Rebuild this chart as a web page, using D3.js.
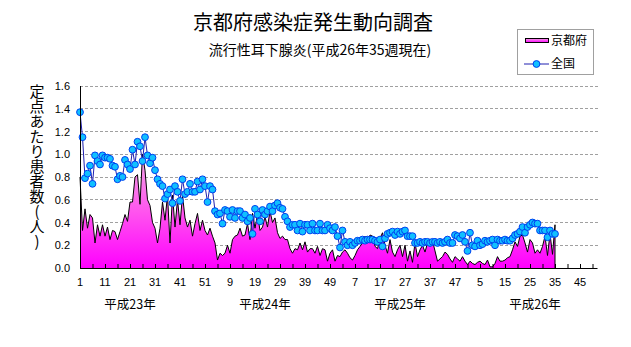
<!DOCTYPE html>
<html><head><meta charset="utf-8">
<script src="https://cdn.jsdelivr.net/npm/d3@7/dist/d3.min.js"></script>
<style>
html,body{margin:0;padding:0;background:#fff;}
svg{display:block;}
</style>
</head><body>
<svg id="chart" width="631" height="347"></svg>
<script>
const title = "京都府感染症発生動向調査";
const subtitle = "流行性耳下腺炎(平成26年35週現在)";
const yLabel = "定点あたり患者数(人)";
const seriesNames = ["京都府", "全国"];
const years = ["平成23年", "平成24年", "平成25年", "平成26年"];
const weeksPerYear = [52, 52, 52, 52];
const yTicks = [0.0, 0.2, 0.4, 0.6, 0.8, 1.0, 1.2, 1.4, 1.6];

// 京都府 (weekly values, 平成23年1週 - 平成26年35週)
const kyoto = [
0.80,0.33,0.52,0.35,0.47,0.44,0.22,0.38,0.28,0.38,
0.28,0.36,0.25,0.33,0.32,0.25,0.32,0.39,0.47,0.41,
0.58,0.58,0.80,0.82,0.56,1.00,0.86,0.60,0.55,0.40,
0.35,0.22,0.35,0.58,0.42,0.64,0.22,0.64,0.36,0.60,
0.38,0.64,0.44,0.36,0.42,0.28,0.39,0.48,0.33,0.42,
0.33,0.29,0.35,0.28,0.22,0.07,0.13,0.11,0.13,0.20,
0.13,0.25,0.28,0.29,0.35,0.28,0.29,0.39,0.25,0.48,
0.35,0.47,0.33,0.36,0.45,0.36,0.50,0.40,0.44,0.31,
0.26,0.28,0.25,0.25,0.17,0.13,0.17,0.16,0.22,0.16,
0.23,0.14,0.17,0.17,0.13,0.19,0.11,0.17,0.16,0.06,
0.13,0.16,0.06,0.11,0.10,0.14,0.16,0.13,0.09,0.07,
0.11,0.16,0.19,0.22,0.28,0.22,0.29,0.28,0.19,0.17,
0.26,0.31,0.20,0.13,0.25,0.14,0.10,0.16,0.20,0.10,
0.20,0.06,0.15,0.05,0.22,0.10,0.16,0.20,0.14,0.22,
0.19,0.24,0.15,0.06,0.08,0.10,0.14,0.12,0.08,0.05,
0.10,0.08,0.06,0.10,0.06,0.03,0.06,0.04,0.03,0.05,
0.06,0.04,0.03,0.07,0.01,0.01,0.04,0.10,0.06,0.06,
0.07,0.09,0.10,0.16,0.23,0.19,0.28,0.29,0.22,0.14,
0.25,0.22,0.13,0.16,0.13,0.19,0.28,0.11,0.30,0.12,
0.38
];

// 全国
const national = [
1.37,1.15,0.79,0.83,0.90,0.74,0.99,0.94,0.91,0.99,
0.97,0.97,0.96,0.90,0.89,0.78,0.81,0.80,0.95,0.91,
0.87,1.04,0.91,1.11,1.07,0.94,1.15,0.99,0.92,0.97,
0.86,0.78,0.74,0.72,0.61,0.65,0.69,0.57,0.72,0.67,
0.59,0.78,0.65,0.67,0.74,0.67,0.67,0.76,0.69,0.78,
0.72,0.58,0.72,0.69,0.50,0.47,0.48,0.39,0.51,0.50,
0.45,0.51,0.44,0.50,0.50,0.44,0.47,0.41,0.44,0.30,
0.52,0.47,0.41,0.51,0.47,0.50,0.54,0.50,0.55,0.57,
0.53,0.52,0.45,0.41,0.36,0.38,0.38,0.33,0.39,0.32,
0.38,0.38,0.33,0.39,0.33,0.33,0.39,0.33,0.33,0.38,
0.35,0.33,0.36,0.28,0.18,0.33,0.23,0.20,0.23,0.20,
0.22,0.24,0.24,0.25,0.24,0.25,0.25,0.25,0.24,0.23,
0.25,0.19,0.26,0.30,0.31,0.32,0.29,0.32,0.30,0.32,
0.33,0.28,0.28,0.28,0.22,0.22,0.23,0.22,0.23,0.23,
0.22,0.23,0.23,0.22,0.23,0.22,0.23,0.25,0.22,0.22,
0.29,0.28,0.26,0.29,0.23,0.15,0.31,0.20,0.19,0.24,
0.20,0.21,0.24,0.23,0.24,0.25,0.20,0.25,0.24,0.24,
0.25,0.24,0.24,0.26,0.29,0.30,0.32,0.36,0.31,0.36,
0.38,0.40,0.39,0.39,0.33,0.33,0.33,0.27,0.33,0.30,
0.30
];

// categories: every week of each year
const categories = [];
years.forEach((yr, yi) => {
  for (let w = 1; w <= weeksPerYear[yi]; w++) categories.push({year: yr, week: w, key: yi + "-" + w});
});

const svg = d3.select("#chart");
const plot = {left: 80, right: 597.5, top: 86, bottom: 268};

const x = d3.scalePoint().domain(categories.map(c => c.key)).range([plot.left, plot.right]);
const y = d3.scaleLinear().domain([0, 1.6]).range([plot.bottom, plot.top]);

const defs = svg.append("defs");
const grad = defs.append("linearGradient").attr("id", "pinkGrad")
  .attr("gradientUnits", "userSpaceOnUse")
  .attr("x1", 0).attr("x2", 0).attr("y1", y(0)).attr("y2", y(1.0));
grad.append("stop").attr("offset", "0%").attr("stop-color", "#ff00ff");
grad.append("stop").attr("offset", "50%").attr("stop-color", "#ff55ee");
grad.append("stop").attr("offset", "100%").attr("stop-color", "#f0a8e4");
const grad2 = defs.append("linearGradient").attr("id", "pinkGradLeg")
  .attr("x1", 0).attr("x2", 0).attr("y1", 1).attr("y2", 0);
grad2.append("stop").attr("offset", "0%").attr("stop-color", "#ff00ff");
grad2.append("stop").attr("offset", "100%").attr("stop-color", "#f4a0e6");

// gridlines
svg.append("g").selectAll("line").data(yTicks.filter(t => t > 0)).join("line")
  .attr("x1", plot.left).attr("x2", plot.right)
  .attr("y1", d => y(d)).attr("y2", d => y(d))
  .attr("stroke", "#a0a0a0").attr("stroke-width", 1).attr("stroke-dasharray", "3,2")
  .attr("shape-rendering", "crispEdges");

// Kyoto area
const kData = kyoto.map((v, i) => ({key: categories[i].key, v}));
svg.append("path").datum(kData)
  .attr("fill", "url(#pinkGrad)")
  .attr("d", d3.area().x(d => x(d.key)).y0(y(0)).y1(d => y(d.v)));
svg.append("path").datum(kData)
  .attr("fill", "none").attr("stroke", "#000").attr("stroke-width", 1)
  .attr("d", d3.line().x(d => x(d.key)).y(d => y(d.v)));
// closing edge at last point
svg.append("line")
  .attr("x1", x(kData[kData.length - 1].key)).attr("x2", x(kData[kData.length - 1].key))
  .attr("y1", y(kData[kData.length - 1].v)).attr("y2", y(0))
  .attr("stroke", "#000").attr("stroke-width", 1);

// National line + markers
const nData = national.map((v, i) => ({key: categories[i].key, v}));
svg.append("path").datum(nData)
  .attr("fill", "none").attr("stroke", "#2020b0").attr("stroke-width", 1)
  .attr("d", d3.line().x(d => x(d.key)).y(d => y(d.v)));
svg.append("g").selectAll("circle").data(nData).join("circle")
  .attr("cx", d => x(d.key)).attr("cy", d => y(d.v)).attr("r", 3.4)
  .attr("fill", "#10c0ff").attr("stroke", "#0040f0").attr("stroke-width", 1);

// axes
const xAxis = d3.axisBottom(x)
  .tickValues(categories.filter((c, i) => i % 5 === 0).map(c => c.key))
  .tickSize(-4).tickFormat("");
svg.append("g").attr("transform", `translate(0,${plot.bottom})`).call(xAxis)
  .call(g => g.select(".domain").attr("d", `M${plot.left},0.5H${plot.right}`).attr("stroke", "#000"))
  .call(g => g.selectAll(".tick line").attr("stroke", "#000"));

svg.append("line").attr("x1", plot.left + 0.5).attr("x2", plot.left + 0.5)
  .attr("y1", plot.top).attr("y2", plot.bottom + 0.5).attr("stroke", "#000");

// x labels every 10 weeks
svg.append("g").selectAll("text")
  .data(categories.filter((c, i) => i % 10 === 0))
  .join("text")
  .attr("x", d => x(d.key)).attr("y", 286)
  .attr("text-anchor", "middle")
  .attr("font-family", "Liberation Sans, Arial, sans-serif").attr("font-size", 11)
  .text(d => d.week);

// year labels
const yearAnchorWeek = [21, 23, 25, 27];
svg.append("g").selectAll("text").data(years).join("text")
  .attr("x", (d, i) => x(i + "-" + yearAnchorWeek[i]))
  .attr("y", 309).attr("text-anchor", "middle")
  .attr("font-family", "Noto Sans CJK JP, sans-serif").attr("font-size", 12.5)
  .text(d => d);

// y labels
svg.append("g").selectAll("text").data(yTicks).join("text")
  .attr("x", 70).attr("y", d => y(d) + 4)
  .attr("text-anchor", "end")
  .attr("font-family", "Liberation Sans, Arial, sans-serif").attr("font-size", 11)
  .text(d => d.toFixed(1));

// y title (vertical)
svg.append("text")
  .attr("x", 37).attr("y", 84)
  .attr("font-family", "Noto Sans CJK JP, sans-serif").attr("font-size", 15)
  .style("writing-mode", "vertical-rl")
  .style("text-orientation", "upright")
  .text(yLabel);

// titles
svg.append("text").attr("x", 313).attr("y", 30).attr("text-anchor", "middle")
  .attr("font-family", "Noto Sans CJK JP, sans-serif").attr("font-size", 20)
  .text(title);
svg.append("text").attr("x", 320).attr("y", 55).attr("text-anchor", "middle")
  .attr("font-family", "Noto Sans CJK JP, sans-serif").attr("font-size", 14)
  .text(subtitle);

// legend
const leg = svg.append("g");
leg.append("rect").attr("x", 517.5).attr("y", 29.5).attr("width", 76).attr("height", 45)
  .attr("fill", "#fff").attr("stroke", "#a0a0a0");
leg.append("rect").attr("x", 525.5).attr("y", 38.5).attr("width", 23).attr("height", 4)
  .attr("fill", "url(#pinkGradLeg)").attr("stroke", "#000");
leg.append("text").attr("x", 551).attr("y", 45)
  .attr("font-family", "Noto Sans CJK JP, sans-serif").attr("font-size", 12).text(seriesNames[0]);
leg.append("line").attr("x1", 524).attr("x2", 549).attr("y1", 64).attr("y2", 64)
  .attr("stroke", "#2020b0");
leg.append("circle").attr("cx", 536.5).attr("cy", 64).attr("r", 3.4)
  .attr("fill", "#10c0ff").attr("stroke", "#0040f0");
leg.append("text").attr("x", 551).attr("y", 68)
  .attr("font-family", "Noto Sans CJK JP, sans-serif").attr("font-size", 12).text(seriesNames[1]);
</script>
</body></html>
